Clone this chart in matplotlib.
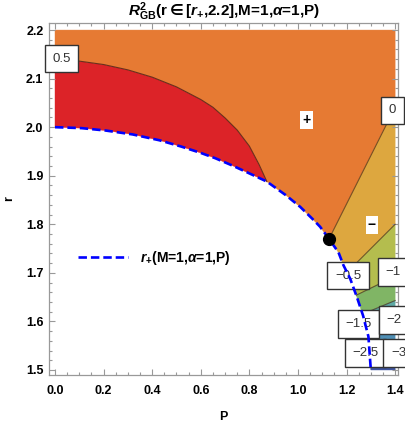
import numpy as np
import matplotlib as mpl
mpl.use('Agg')
import matplotlib.pyplot as plt
from matplotlib.patches import Polygon
from matplotlib.ticker import MultipleLocator

plt.rcParams['font.family'] = ['Liberation Sans', 'DejaVu Sans']
plt.rcParams['font.weight'] = 'bold'
plt.rcParams['mathtext.fontset'] = 'custom'
plt.rcParams['mathtext.rm'] = 'Liberation Sans:bold'
plt.rcParams['mathtext.it'] = 'Liberation Sans:italic:bold'
plt.rcParams['mathtext.bf'] = 'Liberation Sans:bold'
plt.rcParams['mathtext.sf'] = 'DejaVu Sans:bold'

# horizon r_+(P)
p_hor = [0.0, 0.11, 0.21, 0.32, 0.43, 0.52, 0.60, 0.66, 0.73, 0.795, 0.872, 0.95, 1.009,
         1.06, 1.091, 1.128, 1.167, 1.187, 1.215, 1.242, 1.268, 1.290, 1.300]
r_hor = [2.0, 1.998, 1.993, 1.985, 1.973, 1.960, 1.947, 1.936, 1.921, 1.906, 1.888, 1.860, 1.836,
         1.811, 1.795, 1.770, 1.742, 1.716, 1.688, 1.651, 1.612, 1.569, 1.500]

# contour R = 0.5 (from left edge down to horizon)
p_c05 = [0.0, 0.1, 0.2, 0.3, 0.4, 0.5, 0.6, 0.65, 0.7, 0.75, 0.8, 0.84, 0.872]
r_c05 = [2.138, 2.136, 2.129, 2.118, 2.103, 2.083, 2.057, 2.041, 2.019, 1.994, 1.961, 1.923, 1.888]

# lower contours: start on horizon, end at P = 1.4
levels = [0, -0.5, -1, -1.5, -2, -2.5, -3]
p_start = [1.128, 1.202, 1.240, 1.266, 1.282, 1.292, 1.297]
r_start = [1.770, 1.701, 1.654, 1.615, 1.585, 1.555, 1.520]
r_end = [2.041, 1.800, 1.693, 1.643, 1.598, 1.555, 1.515]

label_txt = ['0.5', '0', '\u22120.5', '\u22121', '\u22121.5', '\u22122', '\u22122.5', '\u22123']
label_p = [0.027, 1.388, 1.206, 1.392, 1.250, 1.395, 1.279, 1.414]
label_r = [2.141, 2.035, 1.694, 1.702, 1.595, 1.603, 1.535, 1.535]

dot_p, dot_r = 1.128, 1.770
p_max, r_min, r_max = 1.4, 1.5, 2.2

colors = ['#DC2328', '#E67A33', '#DDA73F', '#B4BD4E', '#80B565',
          '#5EA9A5', '#4F8FB5', '#4A70B0', '#3F55A0']


def hor_between(p0, p1):
    return [(p, r) for p, r in zip(p_hor, r_hor) if p0 < p < p1]


fig = plt.figure(figsize=(4.05, 4.23), dpi=100)
ax = fig.add_axes([0.121, 0.1135, 0.862, 0.832])

c05 = list(zip(p_c05, r_c05))
lines = [[(p_start[i], r_start[i]), (p_max, r_end[i])] for i in range(len(levels))]

polys = []
# R > 0.5
polys.append(c05 + hor_between(0, p_c05[-1])[::-1] + [(p_hor[0], r_hor[0])])
# 0 < R < 0.5
polys.append([(0, r_max), (p_max, r_max)] + lines[0][::-1] +
             hor_between(p_c05[-1], p_start[0])[::-1] + c05[::-1])
for i in range(len(levels) - 1):
    polys.append(lines[i] + lines[i + 1][::-1] +
                 hor_between(p_start[i], p_start[i + 1])[::-1])
polys.append(lines[-1] + [(p_max, r_min), (p_hor[-1], r_hor[-1])] +
             hor_between(p_start[-1], p_hor[-1])[::-1])

for poly, c in zip(polys, colors):
    ax.add_patch(Polygon(poly, closed=True, facecolor=c, edgecolor=c, lw=0.3, zorder=1))

ax.plot(p_c05, r_c05, color='#4a1e14', lw=0.8, alpha=0.8, zorder=2)
for ln in lines:
    ax.plot([q[0] for q in ln], [q[1] for q in ln], color='#4a2a14', lw=0.8, alpha=0.7, zorder=2)

for t, x, y in zip(label_txt, label_p, label_r):
    ax.text(x, y, t, ha='center', va='center', fontsize=9.5, fontweight='normal',
            color='#333333', clip_on=False, zorder=4,
            bbox=dict(boxstyle='square,pad=0.58', fc='white', ec='#333333', lw=1.0))

ax.text(1.036, 2.014, '+', ha='center', va='center', fontsize=10, fontweight='bold', zorder=4,
        bbox=dict(boxstyle='square,pad=0.15', fc='white', ec='none'))
ax.text(1.304, 1.798, '\u2212', ha='center', va='center', fontsize=10, fontweight='bold', zorder=4,
        bbox=dict(boxstyle='square,pad=0.15', fc='white', ec='none'))

ax.plot(p_hor, r_hor, color='#0000FF', lw=1.9, dashes=(3.2, 1.5), zorder=5,
        label=r'$r_{+}$(M=1,$\alpha$=1,P)')
ax.plot([dot_p], [dot_r], 'o', color='black', ms=8.5, zorder=6)

ax.legend(loc='center left', bbox_to_anchor=(0.083, 0.332), frameon=False,
          handlelength=3.6, handletextpad=0.85, borderpad=0, borderaxespad=0,
          prop={'size': 10, 'weight': 'bold'})

ax.set_xlim(-0.0247, 1.4123)
ax.set_ylim(1.4897, 2.2144)
ax.xaxis.set_major_locator(MultipleLocator(0.2))
ax.xaxis.set_minor_locator(MultipleLocator(0.05))
ax.yaxis.set_major_locator(MultipleLocator(0.1))
ax.yaxis.set_minor_locator(MultipleLocator(0.02))
ax.xaxis.set_major_formatter(plt.FuncFormatter(lambda v, _: '%.1f' % v))
ax.yaxis.set_major_formatter(plt.FuncFormatter(lambda v, _: '%.1f' % v))
ax.tick_params(which='both', direction='in', top=True, right=True, color='#999999', width=0.8)
ax.tick_params(which='major', length=4, labelsize=9)
ax.tick_params(which='minor', length=2.2)
ax.tick_params(axis='x', pad=7)
ax.tick_params(axis='y', pad=4)
for s in ax.spines.values():
    s.set_color('#999999')
    s.set_linewidth(0.9)

ax.set_xlabel('P', fontsize=9, fontweight='bold', labelpad=10)
ax.set_ylabel('r', fontsize=9, fontweight='bold', labelpad=8)
ax.set_title(r'$R^{2}_{\mathrm{GB}}$(r$\mathsf{\in}$[$r_{+}$,2.2],M=1,$\alpha$=1,P)',
             fontsize=11, fontweight='bold', pad=3)

fig.savefig('out.png', dpi=100)
